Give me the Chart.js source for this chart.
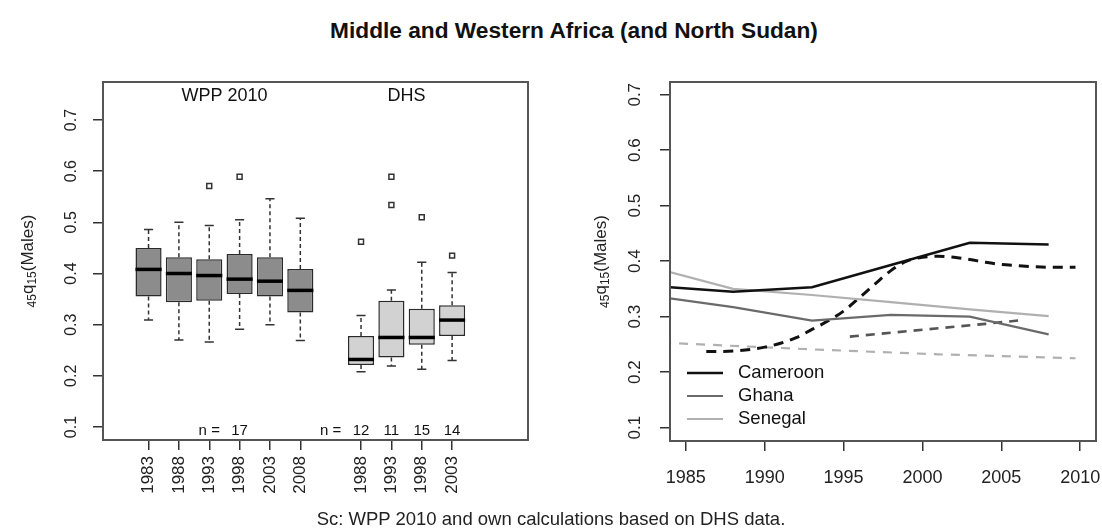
<!DOCTYPE html>
<html>
<head>
<meta charset="utf-8">
<script src="https://cdn.jsdelivr.net/npm/chart.js@4.4.1/dist/chart.umd.min.js"></script>
<style>
  body { margin: 0; background: #fff; font-family: "Liberation Sans", Arial, sans-serif; }
  #wrap { position: relative; width: 1102px; height: 531px; overflow: hidden; }
  #titulo { position: absolute; left: 0; width: 1148px; top: 17px; text-align: center; font-weight: bold; font-size: 22.7px; color: #111; }
  #fuente { position: absolute; left: 0; width: 1102px; top: 508px; text-align: center; font-size: 18.5px; color: #222; }
  #izq { position: absolute; left: 0; top: 0; }
  #der { position: absolute; left: 560px; top: 0; }
</style>
</head>
<body>
<div id="wrap">
  <div id="titulo">Middle and Western Africa (and North Sudan)</div>
  <canvas id="izq" width="560" height="531"></canvas>
  <canvas id="der" width="542" height="531"></canvas>
  <div id="fuente">Sc: WPP 2010 and own calculations based on DHS data.</div>
</div>
<script>
// ---- left panel: boxplots ----
const wppYears = ['1983', '1988', '1993', '1998', '2003', '2008'];
const wppLow  = [0.309, 0.270, 0.266, 0.291, 0.300, 0.269];
const wppQ1   = [0.355, 0.344, 0.347, 0.360, 0.355, 0.324];
const wppMed  = [0.408, 0.400, 0.396, 0.389, 0.385, 0.367];
const wppQ3   = [0.450, 0.432, 0.428, 0.438, 0.432, 0.409];
const wppHigh = [0.486, 0.500, 0.494, 0.505, 0.546, 0.508];
const wppOut  = [[], [], [0.571], [0.589], [], []];
const wppN = 17;

const dhsYears = ['1988', '1993', '1998', '2003'];
const dhsLow  = [0.208, 0.219, 0.213, 0.230];
const dhsQ1   = [0.221, 0.236, 0.261, 0.278];
const dhsMed  = [0.232, 0.275, 0.275, 0.309];
const dhsQ3   = [0.278, 0.347, 0.331, 0.338];
const dhsHigh = [0.318, 0.368, 0.422, 0.402];
const dhsOut  = [[0.462], [0.589, 0.534], [0.510], [0.435]];
const dhsN = [12, 11, 15, 14];

const yTicks = [0.1, 0.2, 0.3, 0.4, 0.5, 0.6, 0.7];

// ---- right panel: lines ----
const wppLineYears = [1983, 1988, 1993, 1998, 2003, 2008];
const cameroonWpp = [0.355, 0.345, 0.353, 0.393, 0.433, 0.430];
const ghanaWpp    = [0.337, 0.317, 0.293, 0.303, 0.300, 0.268];
const senegalWpp  = [0.388, 0.350, 0.339, 0.326, 0.313, 0.301];

const cameroonDhsYears = [1986.3, 1988, 1990, 1991, 1992, 1993, 1994, 1995, 1996, 1997, 1998, 1999, 2000, 2001, 2002, 2003, 2004, 2005, 2006, 2007, 2008, 2009.7];
const cameroonDhs      = [0.237, 0.238, 0.245, 0.252, 0.262, 0.277, 0.292, 0.310, 0.334, 0.359, 0.383, 0.400, 0.407, 0.409, 0.407, 0.403, 0.398, 0.394, 0.392, 0.390, 0.389, 0.389];
const ghanaDhsYears = [1995.4, 1998, 2001, 2004, 2006.4];
const ghanaDhs      = [0.264, 0.271, 0.279, 0.287, 0.294];
const senegalDhsYears = [1983.5, 1993, 2001, 2009.7];
const senegalDhs      = [0.253, 0.241, 0.232, 0.225];

const xTicksRight = [1985, 1990, 1995, 2000, 2005, 2010];

const fuente = '"Liberation Sans", Arial, sans-serif';

// posiciones de las cajas en el eje x
const posWpp = i => i + 1;
const posDhs = i => wppYears.length + 2 + i;

const etiquetasX = {};
wppYears.forEach((y, i) => { etiquetasX[posWpp(i)] = y; });
dhsYears.forEach((y, i) => { etiquetasX[posDhs(i)] = y; });

// marco, etiquetas del eje y (giradas) y titulo del eje y
const marcoEjes = {
  id: 'marcoEjes',
  afterDraw(chart, args, o) {
    const ctx = chart.ctx;
    const a = chart.chartArea;
    const y = chart.scales.y;
    ctx.save();
    ctx.fillStyle = '#222';
    ctx.font = o.tickFont + 'px ' + fuente;
    ctx.textAlign = 'center';
    ctx.textBaseline = 'middle';
    y.ticks.forEach(t => {
      ctx.save();
      ctx.translate(a.left - o.tickOffset, y.getPixelForValue(t.value));
      ctx.rotate(-Math.PI / 2);
      ctx.fillText(t.value.toFixed(1), 0, 0);
      ctx.restore();
    });
    // 45q15(Males)
    const partes = [['45', true], ['q', false], ['15', true], ['(Males)', false]];
    const fMain = o.titleFont + 'px ' + fuente;
    const fSub = Math.round(o.titleFont * 0.7) + 'px ' + fuente;
    let total = 0;
    partes.forEach(p => { ctx.font = p[1] ? fSub : fMain; total += ctx.measureText(p[0]).width; });
    ctx.translate(a.left - o.titleOffset, (a.top + a.bottom) / 2);
    ctx.rotate(-Math.PI / 2);
    ctx.textAlign = 'left';
    ctx.textBaseline = 'alphabetic';
    let x = -total / 2;
    partes.forEach(p => {
      ctx.font = p[1] ? fSub : fMain;
      ctx.fillText(p[0], x, p[1] ? 9 : 6);
      x += ctx.measureText(p[0]).width;
    });
    ctx.restore();
    ctx.save();
    ctx.strokeStyle = '#555';
    ctx.lineWidth = 2;
    ctx.strokeRect(a.left, a.top, a.right - a.left, a.bottom - a.top);
    ctx.restore();
  }
};

// bigotes, medianas y textos del boxplot
const bigotes = {
  id: 'bigotes',
  afterDatasetsDraw(chart) {
    const ctx = chart.ctx;
    const xs = chart.scales.x, ys = chart.scales.y;
    const paso = xs.getPixelForValue(2) - xs.getPixelForValue(1);
    const grupos = [
      { pos: posWpp, low: wppLow, q1: wppQ1, med: wppMed, q3: wppQ3, high: wppHigh },
      { pos: posDhs, low: dhsLow, q1: dhsQ1, med: dhsMed, q3: dhsQ3, high: dhsHigh }
    ];
    ctx.save();
    grupos.forEach(g => {
      g.low.forEach((v, i) => {
        const px = xs.getPixelForValue(g.pos(i));
        const yl = ys.getPixelForValue(g.low[i]);
        const y1 = ys.getPixelForValue(g.q1[i]);
        const y3 = ys.getPixelForValue(g.q3[i]);
        const yh = ys.getPixelForValue(g.high[i]);
        const ym = ys.getPixelForValue(g.med[i]);
        ctx.strokeStyle = '#333';
        ctx.lineWidth = 1.5;
        ctx.setLineDash([4, 3]);
        ctx.beginPath();
        ctx.moveTo(px, y3); ctx.lineTo(px, yh);
        ctx.moveTo(px, y1); ctx.lineTo(px, yl);
        ctx.stroke();
        ctx.setLineDash([]);
        const c = paso * 0.15;
        ctx.beginPath();
        ctx.moveTo(px - c, yh); ctx.lineTo(px + c, yh);
        ctx.moveTo(px - c, yl); ctx.lineTo(px + c, yl);
        ctx.stroke();
        const m = paso * 0.43;
        ctx.strokeStyle = '#000';
        ctx.lineWidth = 3.5;
        ctx.beginPath();
        ctx.moveTo(px - m, ym); ctx.lineTo(px + m, ym);
        ctx.stroke();
      });
    });
    // textos
    const a = chart.chartArea;
    ctx.fillStyle = '#111';
    ctx.textAlign = 'center';
    ctx.textBaseline = 'middle';
    ctx.font = '18px ' + fuente;
    const cW = (xs.getPixelForValue(posWpp(0)) + xs.getPixelForValue(posWpp(wppYears.length - 1))) / 2;
    const cD = (xs.getPixelForValue(posDhs(0)) + xs.getPixelForValue(posDhs(dhsYears.length - 1))) / 2;
    ctx.fillText('WPP 2010', cW, a.top + 14);
    ctx.fillText('DHS', cD, a.top + 14);
    ctx.font = '15px ' + fuente;
    const yn = a.bottom - 9;
    ctx.fillText('n =', xs.getPixelForValue(posWpp(2)), yn);
    ctx.fillText(String(wppN), xs.getPixelForValue(posWpp(3)), yn);
    ctx.fillText('n =', xs.getPixelForValue(posDhs(-1)), yn);
    dhsN.forEach((n, i) => ctx.fillText(String(n), xs.getPixelForValue(posDhs(i)), yn));
    ctx.restore();
  }
};

const atipicos = [];
wppOut.forEach((l, i) => l.forEach(v => atipicos.push({ x: posWpp(i), y: v })));
dhsOut.forEach((l, i) => l.forEach(v => atipicos.push({ x: posDhs(i), y: v })));

const gridTicks = { drawOnChartArea: false, drawTicks: true, tickLength: 10, color: '#333', lineWidth: 1.5, offset: false };

new Chart(document.getElementById('izq'), {
  type: 'bar',
  data: {
    datasets: [
      {
        type: 'scatter',
        data: atipicos,
        pointStyle: 'rect',
        pointRadius: 3.5,
        backgroundColor: '#fff',
        borderColor: '#333',
        borderWidth: 1.5
      },
      {
        label: 'WPP 2010',
        data: wppYears.map((y, i) => ({ x: posWpp(i), y: [wppQ1[i], wppQ3[i]] })),
        backgroundColor: '#8c8c8c',
        borderColor: '#2a2a2a',
        borderWidth: 1.5,
        borderSkipped: false,
        grouped: false,
        barPercentage: 0.86,
        categoryPercentage: 1
      },
      {
        label: 'DHS',
        data: dhsYears.map((y, i) => ({ x: posDhs(i), y: [dhsQ1[i], dhsQ3[i]] })),
        backgroundColor: '#d2d2d2',
        borderColor: '#2a2a2a',
        borderWidth: 1.5,
        borderSkipped: false,
        grouped: false,
        barPercentage: 0.86,
        categoryPercentage: 1
      }
    ]
  },
  options: {
    responsive: false,
    animation: false,
    layout: { padding: { top: 82, right: 32, left: 0, bottom: 0 } },
    plugins: {
      legend: { display: false },
      tooltip: { enabled: false },
      marcoEjes: { tickFont: 16, tickOffset: 31, titleFont: 17, titleOffset: 76 }
    },
    scales: {
      x: {
        type: 'linear',
        offset: false,
        min: -0.5,
        max: 13.5,
        afterBuildTicks: s => { s.ticks = Object.keys(etiquetasX).map(v => ({ value: Number(v) })); },
        afterFit: s => { s.height = 91; s.paddingLeft = 0; s.paddingRight = 0; },
        grid: gridTicks,
        border: { display: false },
        ticks: {
          autoSkip: false,
          minRotation: 90,
          maxRotation: 90,
          padding: 6,
          color: '#222',
          font: { family: fuente, size: 17 },
          callback: v => etiquetasX[v]
        }
      },
      y: {
        min: 0.0746,
        max: 0.7743,
        afterBuildTicks: s => { s.ticks = yTicks.map(v => ({ value: v })); },
        afterFit: s => { s.width = 103; },
        grid: gridTicks,
        border: { display: false },
        ticks: { display: false }
      }
    }
  },
  plugins: [marcoEjes, bigotes]
});

// leyenda dentro del area
const leyenda = {
  id: 'leyenda',
  afterDraw(chart) {
    const ctx = chart.ctx;
    const a = chart.chartArea;
    ctx.save();
    ctx.font = '18.5px ' + fuente;
    ctx.textBaseline = 'middle';
    ctx.fillStyle = '#111';
    chart.data.datasets.slice(0, 3).forEach((d, i) => {
      const y = a.bottom - 68 + i * 23;
      ctx.strokeStyle = d.borderColor;
      ctx.lineWidth = d.borderWidth;
      ctx.beginPath();
      ctx.moveTo(a.left + 17, y); ctx.lineTo(a.left + 53, y);
      ctx.stroke();
      ctx.fillText(d.label, a.left + 68, y);
    });
    ctx.restore();
  }
};

const serie = (xs, ys) => xs.map((x, i) => ({ x: x, y: ys[i] }));

new Chart(document.getElementById('der'), {
  type: 'line',
  data: {
    datasets: [
      { label: 'Cameroon', data: serie(wppLineYears, cameroonWpp), borderColor: '#111', borderWidth: 2.5 },
      { label: 'Ghana', data: serie(wppLineYears, ghanaWpp), borderColor: '#6a6a6a', borderWidth: 2.2 },
      { label: 'Senegal', data: serie(wppLineYears, senegalWpp), borderColor: '#b0b0b0', borderWidth: 2.2 },
      { label: 'Cameroon DHS', data: serie(cameroonDhsYears, cameroonDhs), borderColor: '#111', borderWidth: 3, borderDash: [10, 7], cubicInterpolationMode: 'monotone' },
      { label: 'Ghana DHS', data: serie(ghanaDhsYears, ghanaDhs), borderColor: '#555', borderWidth: 2.6, borderDash: [9, 7] },
      { label: 'Senegal DHS', data: serie(senegalDhsYears, senegalDhs), borderColor: '#b0b0b0', borderWidth: 2.2, borderDash: [9, 8] }
    ]
  },
  options: {
    responsive: false,
    animation: false,
    clip: 0,
    elements: { point: { radius: 0 }, line: { tension: 0, fill: false } },
    layout: { padding: { top: 82, right: 6, left: 0, bottom: 0 } },
    plugins: {
      legend: { display: false },
      tooltip: { enabled: false },
      marcoEjes: { tickFont: 17, tickOffset: 35, titleFont: 17, titleOffset: 70 }
    },
    scales: {
      x: {
        type: 'linear',
        min: 1984,
        max: 2011,
        afterBuildTicks: s => { s.ticks = xTicksRight.map(v => ({ value: v })); },
        afterFit: s => { s.height = 90; s.paddingLeft = 0; s.paddingRight = 0; },
        grid: gridTicks,
        border: { display: false },
        ticks: {
          autoSkip: false,
          maxRotation: 0,
          padding: 16,
          color: '#222',
          font: { family: fuente, size: 18 },
          callback: v => String(v)
        }
      },
      y: {
        min: 0.0758,
        max: 0.723,
        afterBuildTicks: s => { s.ticks = yTicks.map(v => ({ value: v })); },
        afterFit: s => { s.width = 110; },
        grid: gridTicks,
        border: { display: false },
        ticks: { display: false }
      }
    }
  },
  plugins: [marcoEjes, leyenda]
});
</script>
</body>
</html>
